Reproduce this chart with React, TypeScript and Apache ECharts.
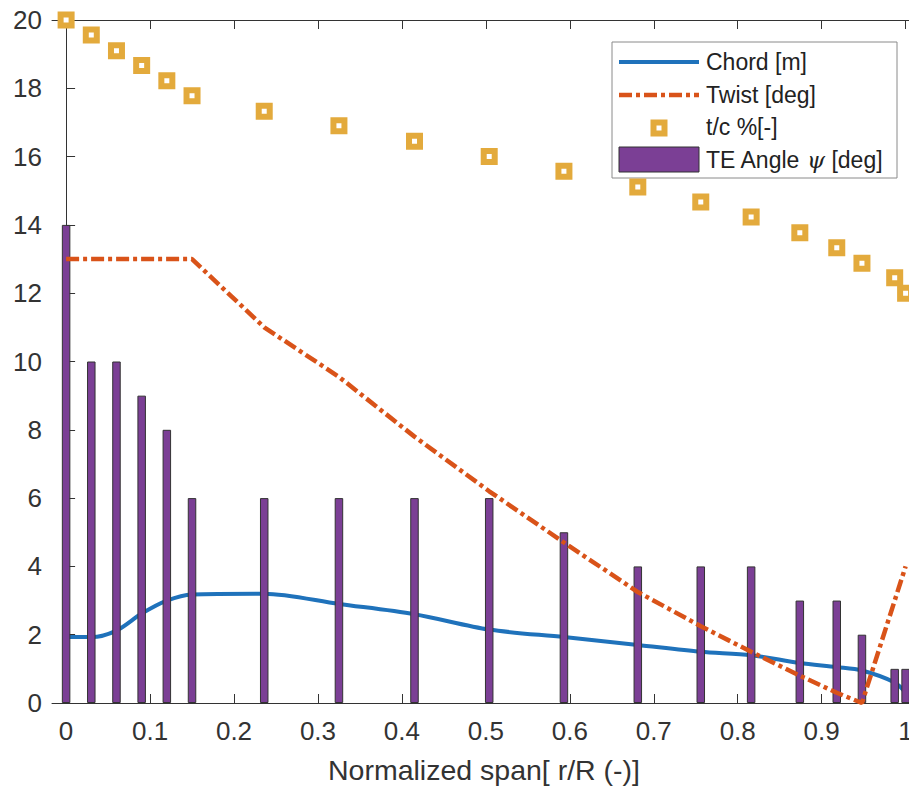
import React, { useEffect, useRef } from "react";
import * as echarts from "echarts";

// ---- data ----
const stations = [0, 0.03, 0.06, 0.09, 0.12, 0.15, 0.236, 0.325, 0.415, 0.504, 0.593, 0.681, 0.756, 0.816, 0.874, 0.918, 0.948, 0.987, 1.0];
const teAngle = [14, 10, 10, 9, 8, 6, 6, 6, 6, 6, 5, 4, 4, 4, 3, 3, 2, 1, 1];
const chord = [1.93, 1.93, 2.12, 2.62, 3.0, 3.18, 3.2, 2.9, 2.6, 2.15, 1.93, 1.7, 1.5, 1.4, 1.17, 1.05, 0.95, 0.6, 0.3];
const twist = [13, 13, 13, 13, 13, 13, 11, 9.55, 7.8, 6.2, 4.7, 3.25, 2.25, 1.5, 0.8, 0.3, 0, 3.0, 4.0];
const tc = [20, 19.56, 19.1, 18.67, 18.22, 17.78, 17.33, 16.9, 16.45, 16.0, 15.57, 15.11, 14.67, 14.23, 13.77, 13.33, 12.88, 12.45, 12.0];
const xTicks = [0, 0.1, 0.2, 0.3, 0.4, 0.5, 0.6, 0.7, 0.8, 0.9, 1];
const legendNames = ["Chord [m]", "Twist [deg]", "t/c %[-]", "TE Angle {p|ψ} [deg]"];
const xTitle = "Normalized span[ r/R (-)]";

const FONT = "'Liberation Sans', Arial, Helvetica, sans-serif";
const AX = "#333333";
const BLUE = "#1f72bb";
const ORANGE = "#d95319";
const GOLD = "#e3aa3c";
const PURPLE = "#7b3f95";

const X_MIN = -0.0168;
const PX_PER_UNIT = 839.5;
const GRID_LEFT = 52;
const GRID_RIGHT = -20;
const GRID_W = 909 - GRID_LEFT - GRID_RIGHT;
const X_MAX = X_MIN + GRID_W / PX_PER_UNIT;

export default function App() {
  const ref = useRef<HTMLDivElement>(null);
  useEffect(() => {
    const chart = echarts.init(ref.current!, null, { renderer: "svg" });
    const pair = (ys: number[]) => stations.map((x, i) => [x, ys[i]]);
    const xAxisCommon = {
      type: "value",
      min: X_MIN,
      max: X_MAX,
      splitLine: { show: false },
      axisLine: { show: true, onZero: false, lineStyle: { color: AX, width: 1 } },
      axisTick: { show: true, inside: true, length: 9, customValues: xTicks, lineStyle: { color: AX, width: 1 } },
    };
    const lx = 612, ly = 42;
    const option: any = {
      animation: false,
      backgroundColor: "#ffffff",
      grid: { left: GRID_LEFT, right: GRID_RIGHT, top: 20, bottom: 83, containLabel: false, outerBoundsMode: "none" },
      xAxis: [
        {
          ...xAxisCommon,
          position: "bottom",
          axisLabel: {
            show: true,
            customValues: xTicks,
            margin: 15,
            color: AX,
            fontSize: 26,
            fontFamily: FONT,
            formatter: (v: number) => String(Math.round(v * 10) / 10),
          },
          name: xTitle,
          nameLocation: "middle",
          nameGap: 52,
          nameTextStyle: { color: AX, fontSize: 28.5, fontFamily: FONT, padding: [0, 13, 0, 0] },
        },
        {
          ...xAxisCommon,
          position: "top",
          axisLabel: { show: false },
        },
      ],
      yAxis: [
        {
          type: "value",
          min: 0,
          max: 20,
          interval: 2,
          splitLine: { show: false },
          axisLine: { show: true, lineStyle: { color: AX, width: 1 } },
          axisTick: { show: true, inside: true, length: 9, lineStyle: { color: AX, width: 1 } },
          axisLabel: { margin: 10, color: AX, fontSize: 26, fontFamily: FONT },
        },
      ],
      series: [
        {
          name: "Chord [m]",
          type: "line",
          data: pair(chord),
          symbol: "none",
          smooth: 0.3,
          z: 1,
          lineStyle: { color: BLUE, width: 4 },
        },
        {
          name: "TE Angle ψ [deg]",
          type: "bar",
          data: pair(teAngle),
          barWidth: 8.5,
          z: 2,
          itemStyle: { color: PURPLE, borderColor: "#333333", borderWidth: 1 },
        },
        {
          name: "Twist [deg]",
          type: "line",
          data: pair(twist),
          symbol: "none",
          z: 3,
          lineStyle: { color: ORANGE, width: 4.5, type: [13, 4, 4, 4] },
        },
        {
          name: "t/c %[-]",
          type: "scatter",
          data: pair(tc),
          symbol: "rect",
          symbolSize: 11,
          z: 4,
          clip: false,
          itemStyle: { color: "#ffffff", borderColor: GOLD, borderWidth: 6, opacity: 1 },
        },
      ],
      graphic: [
        {
          type: "group",
          z: 100,
          children: [
            {
              type: "rect",
              shape: { x: lx, y: ly, width: 285, height: 136 },
              style: { fill: "#ffffff", stroke: "#8a8a8a", lineWidth: 1 },
            },
            {
              type: "line",
              shape: { x1: 619, y1: 62, x2: 699, y2: 62 },
              style: { stroke: BLUE, lineWidth: 4 },
            },
            {
              type: "line",
              shape: { x1: 619, y1: 95, x2: 699, y2: 95 },
              style: { stroke: ORANGE, lineWidth: 4.5, lineDash: [13, 4, 4, 4] },
            },
            {
              type: "rect",
              shape: { x: 653.5, y: 122.5, width: 11, height: 11 },
              style: { fill: "#ffffff", stroke: GOLD, lineWidth: 6 },
            },
            {
              type: "rect",
              shape: { x: 619, y: 147, width: 80, height: 25 },
              style: { fill: PURPLE, stroke: "#333333", lineWidth: 1 },
            },
            ...legendNames.map((t, i) => ({
              type: "text",
              x: 706,
              y: 62 + i * 32.7,
              style: {
                text: t,
                fill: "#222222",
                font: `23px ${FONT}`,
                fontSize: 23,
                fontFamily: FONT,
                verticalAlign: "middle",
                align: "left",
                rich: {
                  p: { fontStyle: "italic", fontFamily: "'DejaVu Serif', serif", fontSize: 23, fill: "#222222" },
                },
              },
            })),
          ],
        },
      ],
    };
    chart.setOption(option);
    return () => chart.dispose();
  }, []);
  return (
    <div
      ref={ref}
      style={{ position: "fixed", left: 0, top: 0, width: 909, height: 786, background: "#fff" }}
    />
  );
}
